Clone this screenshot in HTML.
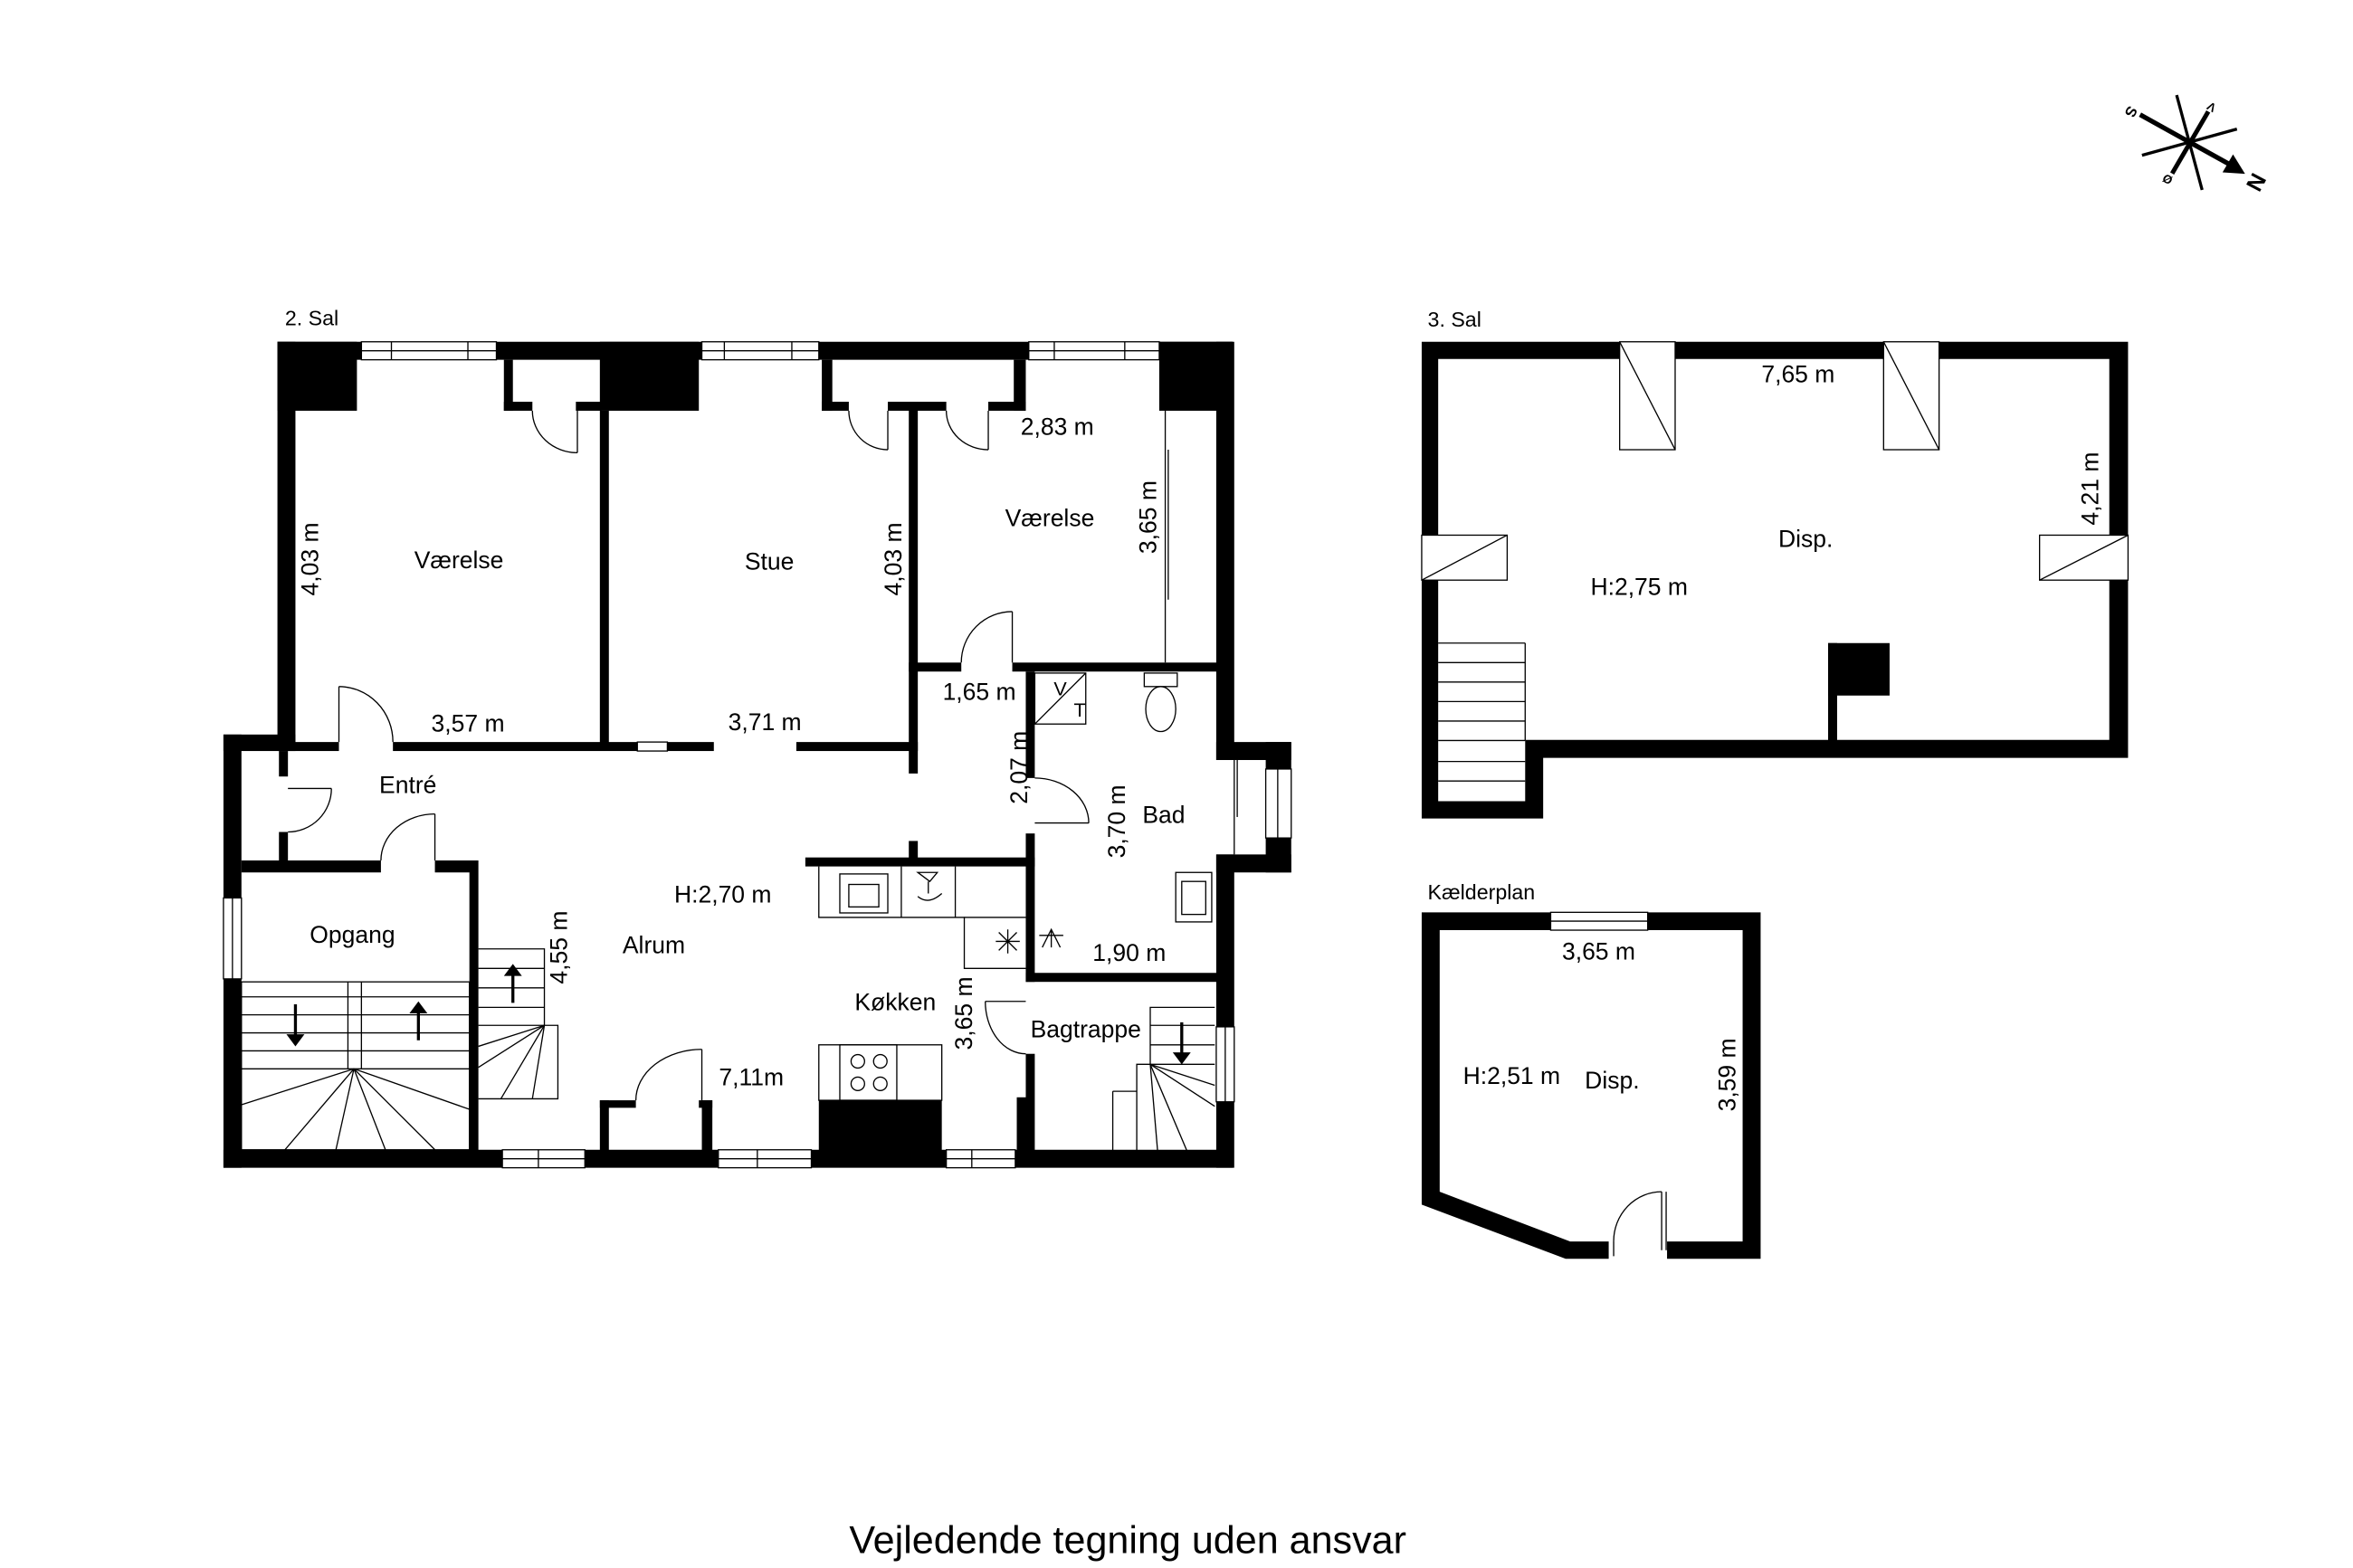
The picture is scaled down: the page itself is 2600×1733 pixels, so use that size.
<!DOCTYPE html>
<html><head><meta charset="utf-8"><style>
html,body{margin:0;padding:0;background:#fff}
svg{display:block}
text{font-family:"Liberation Sans",Arial,sans-serif;fill:#000}
</style></head><body>
<svg width="2600" height="1733" viewBox="0 0 1569 1046" preserveAspectRatio="none" xmlns="http://www.w3.org/2000/svg">
<rect x="0" y="0" width="1569" height="1046" fill="#fff"/>
<g fill="#000">
<rect x="185" y="228" width="637" height="12"/>
<rect x="185" y="228" width="12" height="273"/>
<rect x="185" y="228" width="53" height="46"/>
<rect x="400" y="228" width="66" height="46"/>
<rect x="773" y="228" width="49" height="46"/>
<rect x="811" y="228" width="12" height="279"/>
<rect x="811" y="570" width="12" height="209"/>
<rect x="811" y="495" width="50" height="12"/>
<rect x="844" y="495" width="17" height="18"/>
<rect x="844" y="559" width="17" height="23"/>
<rect x="811" y="570" width="50" height="12"/>
<rect x="149" y="490" width="12" height="289"/>
<rect x="149" y="490" width="48" height="11"/>
<rect x="149" y="767" width="673" height="12"/>
<rect x="546" y="734" width="82" height="34"/>
<rect x="678" y="732" width="10" height="36"/>
<rect x="336" y="240" width="6" height="34"/>
<rect x="336" y="268" width="19" height="6"/>
<rect x="384" y="268" width="17" height="6"/>
<rect x="548" y="240" width="7" height="34"/>
<rect x="548" y="268" width="18" height="6"/>
<rect x="592" y="268" width="39" height="6"/>
<rect x="659" y="268" width="25" height="6"/>
<rect x="676" y="240" width="8" height="34"/>
<rect x="400" y="274" width="6" height="226"/>
<rect x="606" y="268" width="6" height="248"/>
<rect x="606" y="561" width="6" height="16"/>
<rect x="197" y="495" width="29" height="6"/>
<rect x="262" y="495" width="214" height="6"/>
<rect x="531" y="495" width="81" height="6"/>
<rect x="186" y="501" width="6" height="17"/>
<rect x="186" y="555" width="6" height="21"/>
<rect x="161" y="574" width="93" height="8"/>
<rect x="290" y="574" width="28" height="8"/>
<rect x="313" y="574" width="6" height="195"/>
<rect x="606" y="442" width="35" height="6"/>
<rect x="675" y="442" width="147" height="6"/>
<rect x="684" y="448" width="6" height="71"/>
<rect x="684" y="556" width="6" height="99"/>
<rect x="537" y="572" width="153" height="6"/>
<rect x="684" y="649" width="138" height="6"/>
<rect x="684" y="703" width="6" height="66"/>
<rect x="400" y="734" width="24" height="5"/>
<rect x="400" y="734" width="6" height="34"/>
<rect x="466" y="734" width="9" height="5"/>
<rect x="468" y="734" width="7" height="34"/>
</g>
<g fill="#fff" stroke="#000" stroke-width="0.8">
<rect x="241" y="228" width="90" height="12"/>
<rect x="468" y="228" width="78" height="12"/>
<rect x="686" y="228" width="87" height="12"/>
<rect x="335" y="767" width="55" height="12"/>
<rect x="479" y="767" width="62" height="12"/>
<rect x="631" y="767" width="46" height="12"/>
<rect x="149" y="599" width="12" height="54"/>
<rect x="844" y="513" width="17" height="46"/>
<rect x="811" y="685" width="12" height="50"/>
<rect x="425" y="495" width="20" height="6"/>
</g>
<g stroke="#000" stroke-width="0.8" fill="none">
<line x1="241" y1="234" x2="331" y2="234"/><line x1="261" y1="228" x2="261" y2="240"/><line x1="312" y1="228" x2="312" y2="240"/>
<line x1="468" y1="234" x2="546" y2="234"/><line x1="483" y1="228" x2="483" y2="240"/><line x1="528" y1="228" x2="528" y2="240"/>
<line x1="686" y1="234" x2="773" y2="234"/><line x1="703" y1="228" x2="703" y2="240"/><line x1="750" y1="228" x2="750" y2="240"/>
<line x1="335" y1="773" x2="390" y2="773"/><line x1="359" y1="767" x2="359" y2="779"/>
<line x1="479" y1="773" x2="541" y2="773"/><line x1="505" y1="767" x2="505" y2="779"/>
<line x1="631" y1="773" x2="677" y2="773"/><line x1="648" y1="767" x2="648" y2="779"/>
<line x1="155" y1="599" x2="155" y2="653"/>
<line x1="852" y1="513" x2="852" y2="559"/>
<line x1="817" y1="685" x2="817" y2="735"/>
<line x1="823" y1="507" x2="823" y2="570"/><line x1="825" y1="507" x2="825" y2="545"/>
<line x1="777" y1="274" x2="777" y2="442"/><line x1="779" y1="300" x2="779" y2="400"/>
<line x1="385" y1="274" x2="385" y2="302"/><path d="M355 274 A30 28 0 0 0 385 302"/>
<line x1="592" y1="274" x2="592" y2="300"/><path d="M566 274 A26 26 0 0 0 592 300"/>
<line x1="659" y1="274" x2="659" y2="300"/><path d="M631 274 A28 26 0 0 0 659 300"/>
<line x1="675" y1="408" x2="675" y2="442"/><path d="M641 442 A34 34 0 0 1 675 408"/>
<line x1="226" y1="458" x2="226" y2="495"/><path d="M226 458 A36 37 0 0 1 262 495"/>
<line x1="192" y1="526" x2="221" y2="526"/><path d="M221 526 A29 29 0 0 1 192 555"/>
<line x1="290" y1="543" x2="290" y2="574"/><path d="M254 574 A36 31 0 0 1 290 543"/>
<line x1="690" y1="549" x2="726" y2="549"/><path d="M690 519 A36 30 0 0 1 726 549"/>
<line x1="657" y1="668" x2="684" y2="668"/><path d="M657 668 A27 35 0 0 0 684 703"/>
<line x1="468" y1="700" x2="468" y2="734"/><path d="M424 734 A44 34 0 0 1 468 700"/>
<rect x="161" y="655" width="152" height="112"/>
<line x1="161" y1="665" x2="313" y2="665"/><line x1="161" y1="677" x2="313" y2="677"/><line x1="161" y1="689" x2="313" y2="689"/><line x1="161" y1="701" x2="313" y2="701"/><line x1="161" y1="713" x2="313" y2="713"/>
<line x1="232" y1="655" x2="232" y2="713"/><line x1="241" y1="655" x2="241" y2="713"/>
<line x1="236" y1="713" x2="161" y2="737"/><line x1="236" y1="713" x2="190" y2="767"/><line x1="236" y1="713" x2="224" y2="767"/><line x1="236" y1="713" x2="257" y2="767"/><line x1="236" y1="713" x2="290" y2="767"/><line x1="236" y1="713" x2="313" y2="740"/>
<path d="M319 633 H363 V684 H372 V733 H319"/>
<line x1="319" y1="646" x2="363" y2="646"/><line x1="319" y1="659" x2="363" y2="659"/><line x1="319" y1="672" x2="363" y2="672"/><line x1="319" y1="684" x2="363" y2="684"/>
<line x1="363" y1="684" x2="319" y2="712"/><line x1="363" y1="684" x2="334" y2="733"/><line x1="363" y1="684" x2="355" y2="733"/><line x1="319" y1="698" x2="363" y2="684"/>
<path d="M810 672 H767 V710 H758 V769"/>
<line x1="767" y1="684" x2="810" y2="684"/><line x1="767" y1="697" x2="810" y2="697"/><line x1="767" y1="710" x2="810" y2="710"/>
<line x1="767" y1="710" x2="810" y2="738"/><line x1="767" y1="710" x2="792" y2="769"/><line x1="767" y1="710" x2="772" y2="769"/><line x1="767" y1="710" x2="810" y2="724"/><line x1="742" y1="728" x2="758" y2="728"/><line x1="742" y1="728" x2="742" y2="769"/>
<path d="M546 578 V612 H643 V646 H684"/>
<line x1="601" y1="578" x2="601" y2="612"/><line x1="637" y1="578" x2="637" y2="612"/><line x1="643" y1="612" x2="684" y2="612"/>
<rect x="560" y="583" width="32" height="26"/><rect x="566" y="590" width="20" height="15"/>
<rect x="546" y="697" width="82" height="37"/><rect x="560" y="697" width="38" height="37"/>
<circle cx="572" cy="708" r="4.5"/><circle cx="587" cy="708" r="4.5"/><circle cx="572" cy="723" r="4.5"/><circle cx="587" cy="723" r="4.5"/>
<path d="M612 582 L625 582 L620 588 Z M619 588 V596 M612 598 Q619 604 628 596"/>
<path d="M664 628 h16 M672 620 v16 M666 622 l12 12 M666 634 l12 -12"/>
<path d="M695 632 l6 -12 l6 12 M693 624 h16 M701 620 v12"/>
<rect x="690" y="449" width="34" height="34"/><line x1="690" y1="483" x2="724" y2="449"/>
<rect x="763" y="449" width="22" height="9"/><ellipse cx="774" cy="473" rx="10" ry="15"/>
<rect x="784" y="582" width="24" height="33"/><rect x="788" y="588" width="16" height="22"/>
</g>
<g fill="#000">
<path d="M196 670 v20 h-5 l6 8 l6 -8 h-5 v-20 z"/>
<path d="M278 694 v-18 h-5 l6 -8 l6 8 h-5 v18 z"/>
<path d="M341 669 v-18 h-5 l6 -8 l6 8 h-5 v18 z"/>
<path d="M787 682 v20 h-5 l6 8 l6 -8 h-5 v-20 z"/>
</g>
<path fill="#000" fill-rule="evenodd" d="M948 228 H1419 V505.6 H1029 V546 H948 Z M959 239.5 H1406.5 V493.6 H1017 V534.5 H959 Z"/>
<rect x="1219" y="429" width="41" height="35" fill="#000"/>
<rect x="1219" y="429" width="6" height="66" fill="#000"/>
<g fill="#fff" stroke="#000" stroke-width="0.8">
<rect x="1080" y="228" width="37" height="72"/>
<rect x="1256" y="228" width="37" height="72"/>
<rect x="948" y="357" width="57" height="30"/>
<rect x="1360" y="357" width="59" height="30"/>
</g>
<g stroke="#000" stroke-width="0.8" fill="none">
<line x1="1080" y1="228" x2="1117" y2="300"/><line x1="1256" y1="228" x2="1293" y2="300"/>
<line x1="948" y1="387" x2="1005" y2="357"/><line x1="1360" y1="387" x2="1419" y2="357"/>
<line x1="1017" y1="429" x2="1017" y2="494"/><line x1="959" y1="429" x2="1017" y2="429"/>
<line x1="959" y1="442" x2="1017" y2="442"/><line x1="959" y1="455" x2="1017" y2="455"/><line x1="959" y1="468" x2="1017" y2="468"/><line x1="959" y1="481" x2="1017" y2="481"/><line x1="959" y1="494" x2="1017" y2="494"/><line x1="959" y1="508" x2="1017" y2="508"/><line x1="959" y1="521" x2="1017" y2="521"/>
</g>
<path fill="#000" d="M948 608.6 H1174 V839.7 H1111.6 V828.2 H1162 V620.5 H960 V795 L1047 828.2 H1072.7 V839.7 H1044 L948 803.6 Z"/>
<rect x="1034" y="608.6" width="64.7" height="11.9" fill="#fff" stroke="#000" stroke-width="0.8"/>
<line x1="1034" y1="614.5" x2="1098.7" y2="614.5" stroke="#000" stroke-width="0.8"/>
<g stroke="#000" stroke-width="0.8" fill="none">
<line x1="1108" y1="795" x2="1108" y2="834"/><line x1="1111" y1="795" x2="1111" y2="834"/><line x1="1076" y1="828" x2="1076" y2="838"/>
<path d="M1076 828 A32 33 0 0 1 1108 795"/>
</g>
<g stroke="#000" fill="none">
<line x1="1427" y1="76.5" x2="1490" y2="111.5" stroke-width="3.2"/>
<line x1="1451.4" y1="63.4" x2="1468.4" y2="126.7" stroke-width="2"/>
<line x1="1472.5" y1="74.4" x2="1448.4" y2="115.7" stroke-width="3"/>
<line x1="1428.3" y1="103.6" x2="1491.6" y2="86.1" stroke-width="2"/>
</g>
<path d="M1497 116 L1482 115 L1489 103 Z" fill="#000"/>
<text x="1509" y="124" font-size="15" font-weight="bold" transform="rotate(-62 1509 124)" text-anchor="middle">N</text>
<text x="1418" y="73" font-size="10" font-weight="bold" transform="rotate(118 1418 73)" text-anchor="middle">S</text>
<text x="1476" y="69" font-size="8" font-weight="bold" transform="rotate(-150 1476 69)" text-anchor="middle">V</text>
<text x="1444" y="122" font-size="8" font-weight="bold" transform="rotate(30 1444 122)" text-anchor="middle">Ø</text>
<g font-size="16" text-anchor="middle">
<text x="190" y="217" text-anchor="start" font-size="14">2. Sal</text>
<text x="306" y="379">Værelse</text>
<text x="513" y="380">Stue</text>
<text x="700" y="351">Værelse</text>
<text x="705" y="290">2,83 m</text>
<text x="312" y="488">3,57 m</text>
<text x="510" y="487">3,71 m</text>
<text x="653" y="467">1,65 m</text>
<text x="272" y="529">Entré</text>
<text x="776" y="549">Bad</text>
<text x="482" y="602">H:2,70 m</text>
<text x="235" y="629">Opgang</text>
<text x="436" y="636">Alrum</text>
<text x="753" y="641">1,90 m</text>
<text x="597" y="674">Køkken</text>
<text x="724" y="692">Bagtrappe</text>
<text x="501" y="724">7,11m</text>
<text x="707" y="464" font-size="13">V</text>
<text x="720" y="478" font-size="13">T</text>
<text transform="translate(212 373) rotate(-90)">4,03 m</text>
<text transform="translate(601 373) rotate(-90)">4,03 m</text>
<text transform="translate(771 345) rotate(-90)">3,65 m</text>
<text transform="translate(685 512) rotate(-90)">2,07 m</text>
<text transform="translate(750 548) rotate(-90)">3,70 m</text>
<text transform="translate(378 632) rotate(-90)">4,55 m</text>
<text transform="translate(648 676) rotate(-90)">3,65 m</text>
<text x="952" y="218" text-anchor="start" font-size="14">3. Sal</text>
<text x="1199" y="255">7,65 m</text>
<text x="1204" y="365">Disp.</text>
<text x="1093" y="397">H:2,75 m</text>
<text transform="translate(1399 326) rotate(-90)">4,21 m</text>
<text x="952" y="600" text-anchor="start" font-size="14">Kælderplan</text>
<text x="1066" y="640">3,65 m</text>
<text x="1008" y="723">H:2,51 m</text>
<text x="1075" y="726">Disp.</text>
<text transform="translate(1157 717) rotate(-90)">3,59 m</text>
</g>
<text x="752" y="1036" font-size="26" text-anchor="middle">Vejledende tegning uden ansvar</text>
</svg>
</body></html>
